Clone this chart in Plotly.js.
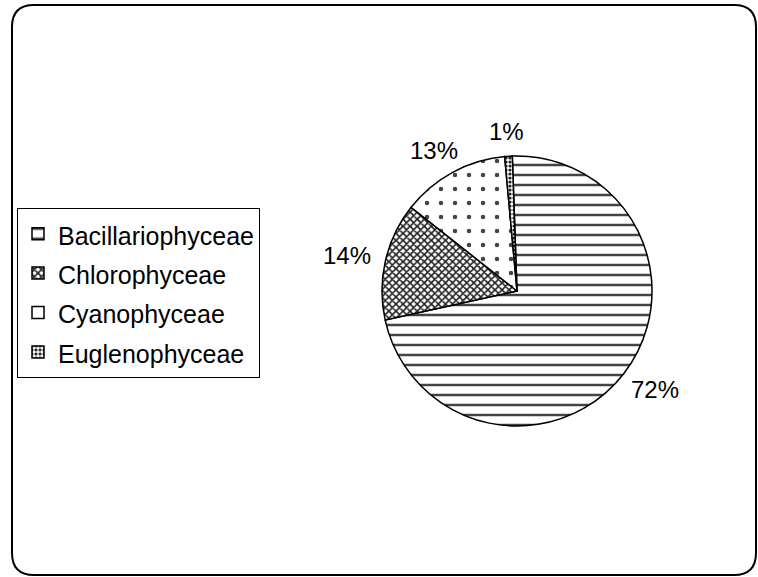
<!DOCTYPE html>
<html>
<head>
<meta charset="utf-8">
<script src="https://cdn.plot.ly/plotly-3.0.1.min.js"></script>
<style>html,body{margin:0;padding:0;background:#fff;}#chart{width:758px;height:577px;}</style>
</head>
<body>
<div id="chart"></div>
<script>
// Data
var categories = ["Bacillariophyceae", "Chlorophyceae", "Cyanophyceae", "Euglenophyceae"];
var shares = [72.1, 14.1, 12.9, 0.9];

var W = 758, H = 577;
var cx = 517, cy = 291, R = 135;
var rotation = -2;
var FONT = "Liberation Sans, Arial, sans-serif";

var patterns = [
  {shape: "-", fgcolor: "#444", bgcolor: "#fff", size: 10, solidity: 0.25},
  {shape: "x", fgcolor: "#222", bgcolor: "#fff", size: 5, solidity: 0.55},
  {shape: ".", fgcolor: "#444", bgcolor: "#fff", size: 14, solidity: 0.08},
  {shape: ".", fgcolor: "#222", bgcolor: "#fff", size: 4, solidity: 0.5}
];

var trace = {
  type: "pie",
  labels: categories.map(function(c){ return '<span style="font-size:25px">' + c + '</span>'; }),
  values: shares,
  sort: false,
  direction: "clockwise",
  rotation: rotation,
  textinfo: "none",
  hoverinfo: "label+percent",
  domain: {x: [(cx - R) / W, (cx + R) / W], y: [(H - cy - R) / H, (H - cy + R) / H]},
  marker: {
    colors: ["#fff", "#fff", "#fff", "#fff"],
    line: {color: "#000", width: 1.5},
    pattern: {
      shape: patterns.map(function(p){return p.shape;}),
      fgcolor: patterns.map(function(p){return p.fgcolor;}),
      bgcolor: patterns.map(function(p){return p.bgcolor;}),
      size: patterns.map(function(p){return p.size;}),
      solidity: patterns.map(function(p){return p.solidity;})
    }
  }
};

// Percentage labels placed outside each slice, derived from the data
var total = shares.reduce(function(a,b){return a+b;}, 0);
var annotations = [];
var cum = 0;
var gap = 150, fs = 24;
shares.forEach(function(v){
  var mid = (rotation + 360 * (cum + v / 2) / total) * Math.PI / 180;
  cum += v;
  var txt = Math.round(100 * v / total) + "%";
  var w = (txt.length - 1) * 0.556 * fs + 0.889 * fs;
  var h = 0.85 * fs;
  var s = Math.sin(mid), c = Math.cos(mid);
  var px = cx + gap * s + (w / 2) * s;
  var py = cy - gap * c - (h / 2) * c;
  annotations.push({
    xref: "paper", yref: "paper",
    x: px / W, y: 1 - py / H,
    xanchor: "center", yanchor: "middle",
    text: txt,
    showarrow: false,
    font: {family: FONT, size: fs, color: "#000"}
  });
});

// Rounded outer frame
function px2x(x){return x / W;}
function py2y(y){return 1 - y / H;}
var fx0 = 12, fy0 = 5, fx1 = 756, fy1 = 575, rr = 22;
var framePath = "M " + px2x(fx0 + rr) + "," + py2y(fy0) +
  " L " + px2x(fx1 - rr) + "," + py2y(fy0) +
  " Q " + px2x(fx1) + "," + py2y(fy0) + " " + px2x(fx1) + "," + py2y(fy0 + rr) +
  " L " + px2x(fx1) + "," + py2y(fy1 - rr) +
  " Q " + px2x(fx1) + "," + py2y(fy1) + " " + px2x(fx1 - rr) + "," + py2y(fy1) +
  " L " + px2x(fx0 + rr) + "," + py2y(fy1) +
  " Q " + px2x(fx0) + "," + py2y(fy1) + " " + px2x(fx0) + "," + py2y(fy1 - rr) +
  " L " + px2x(fx0) + "," + py2y(fy0 + rr) +
  " Q " + px2x(fx0) + "," + py2y(fy0) + " " + px2x(fx0 + rr) + "," + py2y(fy0) + " Z";

var layout = {
  width: W, height: H,
  margin: {l: 0, r: 0, t: 0, b: 0},
  paper_bgcolor: "#fff",
  showlegend: true,
  legend: {
    x: 17 / W, y: 1 - 208 / H, xanchor: "left", yanchor: "top",
    bordercolor: "#000", borderwidth: 1, bgcolor: "#fff",
    font: {family: FONT, size: 28, color: "#000"},
    itemwidth: 30
  },
  annotations: annotations,
  shapes: [{
    type: "path", xref: "paper", yref: "paper", path: framePath,
    line: {color: "#000", width: 2}, fillcolor: "rgba(0,0,0,0)", layer: "below"
  }]
};

Plotly.newPlot("chart", [trace], layout, {displayModeBar: false, staticPlot: true});
</script>
</body>
</html>
